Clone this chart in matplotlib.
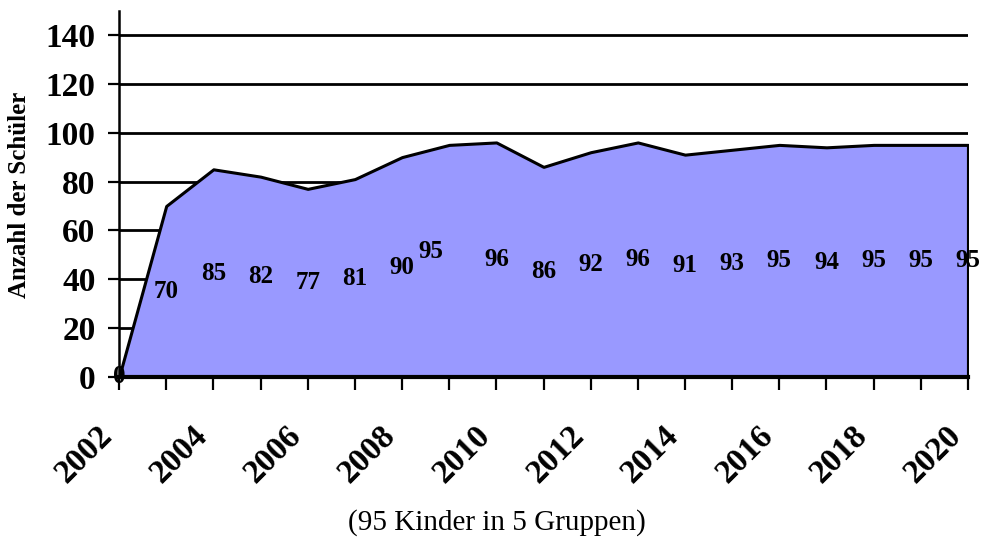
"""
Schülerzahlen 2002-2020 als Flächendiagramm.
"""

import matplotlib
matplotlib.use("Agg")
import matplotlib.pyplot as plt

years = list(range(2002, 2021))
pupils = [0, 70, 85, 82, 77, 81, 90, 95, 96, 86, 92, 96, 91, 93, 95, 94, 95, 95, 95]
year_labels = [str(y) if y % 2 == 0 else "" for y in years]
y_ticks = [0, 20, 40, 60, 80, 100, 120, 140]

# one label was moved by hand in the original chart
label_shift = {2009: (-13, 7)}

plt.rcParams["font.family"] = ["Liberation Serif", "DejaVu Serif"]

fig = plt.figure(figsize=(9.83, 5.47), dpi=100)
ax = fig.add_axes([0.1211, 0.3108, 0.8636, 0.6700])

ax.fill_between(years, pupils, color="#9999FF", edgecolor="black",
                linewidth=2.2, zorder=2)

for y, v in zip(years, pupils):
    dx, dy = label_shift.get(y, (0, 0))
    ax.annotate(str(v), (y, v / 2), xytext=(dx, dy), textcoords="offset points",
                ha="center", va="center", fontsize=18, fontweight="bold",
                zorder=4, annotation_clip=False)

ax.set_xlim(2002, 2020)
ax.set_ylim(0, 150)
ax.set_yticks(y_ticks)
ax.set_xticks(years)
ax.set_xticklabels(year_labels, rotation=45, ha="right", va="top",
                   fontsize=24, fontweight="bold")
ax.set_yticklabels([str(t) for t in y_ticks], fontsize=24, fontweight="bold")

ax.grid(axis="y", color="black", linewidth=2, zorder=0)
ax.set_axisbelow(True)

for side in ("top", "right"):
    ax.spines[side].set_visible(False)
ax.spines["left"].set_linewidth(1.8)
ax.spines["bottom"].set_linewidth(3)
ax.spines["bottom"].set_zorder(3)

ax.tick_params(axis="y", direction="out", length=8, width=1.6, pad=9)
ax.tick_params(axis="x", direction="out", length=9, width=1.6, pad=22)

fig.text(20 / 983, 1 - 195 / 547, "Anzahl der Schüler", rotation=90,
         ha="center", va="center", fontsize=18, fontweight="bold")
fig.text(0.505, 0.044, "(95 Kinder in 5 Gruppen)", ha="center", va="center",
         fontsize=21)

fig.savefig("out.png", dpi=100)
